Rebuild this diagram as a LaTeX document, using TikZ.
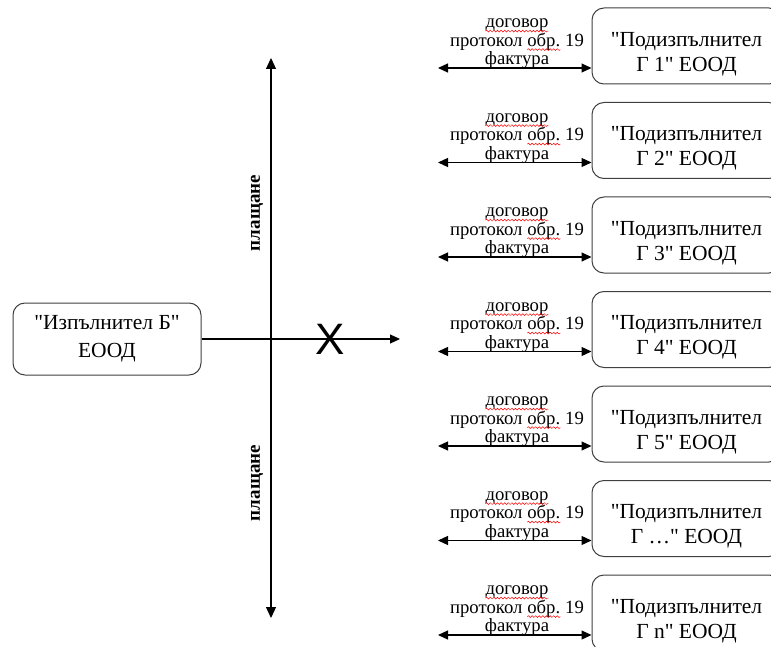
\documentclass[tikz,border=0pt]{standalone}
\usepackage{fontspec}
\setmainfont{Liberation Serif}[Ligatures=TeXOff]
\newfontfamily\xfont{Liberation Sans}
\usetikzlibrary{arrows.meta,decorations.pathmorphing}
\newcommand\spellwave[1]{\tikz[baseline=(sw.base)]{\node[inner sep=0pt,outer sep=0pt] (sw) {#1};
  \draw[red, line width=0.5pt, decorate, decoration={snake,amplitude=0.9pt,segment length=3.6pt}]
    ([yshift=-3.2pt]sw.base west) -- ([yshift=-3.2pt]sw.base east);}}
\begin{document}
\begin{tikzpicture}[x=1pt,y=-1pt,
  box/.style={draw=black!75, line width=1pt, rounded corners=12pt,
    minimum width=189pt, minimum height=76pt, inner sep=0pt},
  boxtext/.style={font=\fontsize{21.5}{25}\selectfont, align=center, inner sep=0pt},
  doc/.style={font=\fontsize{18.7}{18.5}\selectfont, align=center, inner sep=0pt},
  flowline/.style={line width=1.2pt, -{Triangle[length=10pt,width=9pt]}},
  twoway/.style={line width=1.2pt, {Triangle[length=10pt,width=9pt]}-{Triangle[length=10pt,width=9pt]}},
  bothway/.style={line width=1.2pt, {Triangle[length=11pt,width=10pt]}-{Triangle[length=11pt,width=10pt]}},
  paylabel/.style={rotate=90, font=\bfseries\fontsize{19}{19}\selectfont, inner sep=0pt}]
\useasboundingbox (0,0) rectangle (771,647);
\clip (0,0) rectangle (771,647);
\fill[white] (0,0) rectangle (771,647);

% left box
\node[box, minimum width=188pt, minimum height=72pt, align=center,
  font=\fontsize{21.5}{28}\selectfont] (izp) at (107,339) {"Изпълнител Б"\\ЕООД};

% vertical payment axis
\coordinate (vt) at (271,58);
\coordinate (vb) at (271,618);
\draw[bothway] (vt) -- (vb);
\node[paylabel] (pay1) at (257,213) {плащане};
\node[paylabel] (pay2) at (257,483) {плащане};

% blocked flow
\coordinate (hend) at (400,339);
\draw[flowline] (izp.east) -- (hend);
\node[font=\xfont\fontsize{44}{44}\selectfont, inner sep=0pt] (cross) at (330,339) {X};

% subcontractors
\foreach \i/\t/\lbl in {1/8/1, 2/102.5/2, 3/197/3, 4/291.5/4, 5/386/5, 6/480.5/…, 7/575/n}{
  \node[box] (g\i) at (686.5,\t+38) {};
  \node[boxtext] (gt\i) at (686.5,\t+46) {"Подизпълнител\\Г \lbl" ЕООД};
  \coordinate (al\i) at (438,\t+60);
  \draw[twoway] (al\i) -- (g\i.west |- al\i);
  \node[doc] (d\i) at (517,\t+36) {\spellwave{договор}\\протокол \spellwave{обр.} 19\\фактура};
}
\end{tikzpicture}
\end{document}
